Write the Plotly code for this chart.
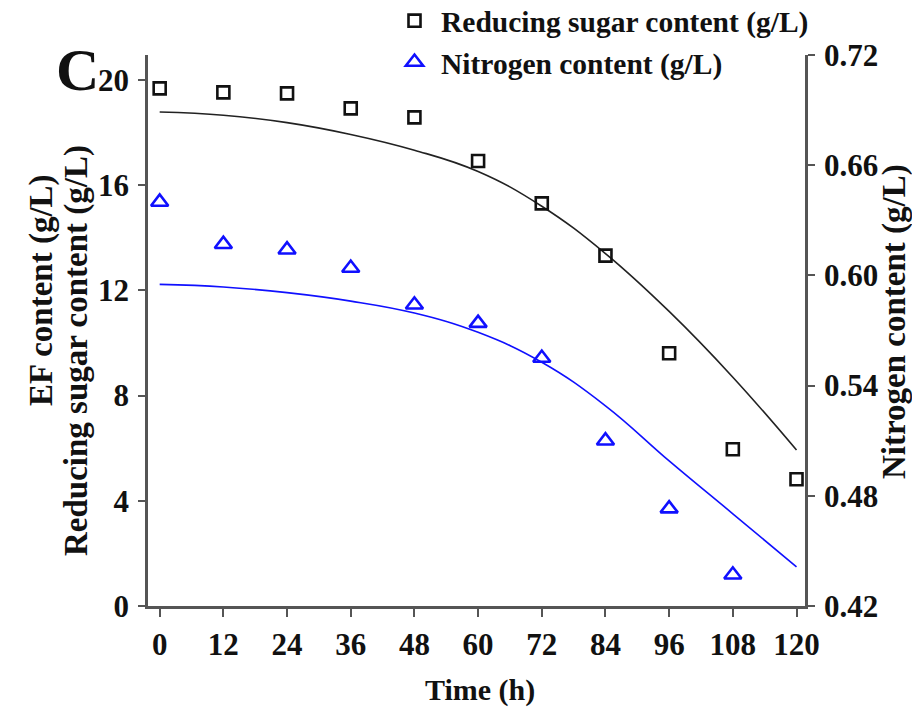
import plotly.graph_objects as go

# ---- data ----
hours = [0, 12, 24, 36, 48, 60, 72, 84, 96, 108, 120]
sugar = [19.68, 19.53, 19.49, 18.92, 18.58, 16.92, 15.31, 13.32, 9.61, 5.96, 4.82]
nitrogen_hours = [0, 12, 24, 36, 48, 60, 72, 84, 96, 108]
nitrogen = [0.640, 0.617, 0.614, 0.604, 0.584, 0.574, 0.555, 0.510, 0.473, 0.437]
fit_hours = [0, 12, 24, 36, 48, 60, 72, 84, 96, 108, 120]
sugar_fit = [18.78, 18.66, 18.38, 17.93, 17.33, 16.52, 15.20, 13.40, 11.20, 8.70, 5.93]
nitrogen_fit = [0.5951, 0.5937, 0.5906, 0.5860, 0.5795, 0.5690, 0.5527, 0.5290, 0.4990, 0.4702, 0.4413]
x_ticks = [0, 12, 24, 36, 48, 60, 72, 84, 96, 108, 120]
left_ticks = [0, 4, 8, 12, 16, 20]
right_ticks = [0.42, 0.48, 0.54, 0.60, 0.66, 0.72]
right_ticktext = ["0.42", "0.48", "0.54", "0.60", "0.66", "0.72"]

FONT = "Liberation Serif"
AX = "#555555"
BLUE = "#1010ff"

fig = go.Figure()
fig.add_trace(go.Scatter(x=fit_hours, y=sugar_fit, mode="lines",
                         line=dict(color="#222222", width=1.6, shape="spline", smoothing=1.2),
                         showlegend=False, hoverinfo="skip"))
fig.add_trace(go.Scatter(x=fit_hours, y=nitrogen_fit, mode="lines", yaxis="y2",
                         line=dict(color=BLUE, width=1.6, shape="spline", smoothing=1.2),
                         showlegend=False, hoverinfo="skip"))
fig.add_trace(go.Scatter(x=hours, y=sugar, mode="markers", name="Reducing sugar content (g/L)",
                         marker=dict(symbol="square-open", size=12, color="#111111", line=dict(width=2.6))))
fig.add_trace(go.Scatter(x=nitrogen_hours, y=nitrogen, mode="markers", yaxis="y2", name="Nitrogen content (g/L)",
                         marker=dict(symbol="triangle-up-open", size=15, color=BLUE, line=dict(width=2.6))))

L, R, T, B = 148, 107, 55, 108
W, H = 912, 714
pw, ph = W - L - R, H - T - B


def px(x):
    return (x - L) / pw


def py(y):
    return (H - B - y) / ph


tickfont = dict(family=FONT, size=31, color="#111111", weight="bold")
fig.update_layout(
    width=W, height=H,
    margin=dict(l=L, r=R, t=T, b=B, autoexpand=False),
    paper_bgcolor="white", plot_bgcolor="white",
    showlegend=True,
    legend=dict(x=px(388), y=py(-5), xanchor="left", yanchor="top", tracegroupgap=0, itemwidth=43,
                font=dict(family=FONT, size=29.5, color="#111111", weight="bold"),
                bgcolor="rgba(0,0,0,0)"),
    xaxis=dict(range=[-2.2, 121.6], tickvals=x_ticks, ticks="outside", ticklen=8, tickwidth=2, tickcolor=AX,
               showline=True, linecolor=AX, linewidth=2.5, showgrid=False, zeroline=False,
               tickfont=tickfont, ticklabelstandoff=1),
    yaxis=dict(range=[0, 20.95], tickvals=left_ticks, ticks="outside", ticklen=7, tickwidth=2, tickcolor=AX,
               showline=True, linecolor=AX, linewidth=2.5, showgrid=False, zeroline=False,
               tickfont=tickfont, ticklabelstandoff=3),
    yaxis2=dict(range=[0.42, 0.72], tickvals=right_ticks, ticktext=right_ticktext, overlaying="y", side="right",
                ticks="outside", ticklen=7, tickwidth=2, tickcolor=AX,
                showline=True, linecolor=AX, linewidth=2.5, showgrid=False, zeroline=False,
                tickfont=tickfont, ticklabelstandoff=3),
)

hfont = dict(family=FONT, size=30, color="#111111", weight="bold")
vfont = dict(family=FONT, size=33, color="#111111", weight="bold")
fig.add_annotation(text="Time (h)", x=px(480), y=py(690), xref="paper", yref="paper", showarrow=False,
                   font=hfont, xanchor="center", yanchor="middle")
fig.add_annotation(text="EF content (g/L)", x=px(41), y=py(290), xref="paper", yref="paper", showarrow=False,
                   font=vfont, textangle=-90, xanchor="center", yanchor="middle")
fig.add_annotation(text="Reducing sugar content (g/L)", x=px(76), y=py(351), xref="paper", yref="paper",
                   showarrow=False, font=vfont, textangle=-90, xanchor="center", yanchor="middle")
fig.add_annotation(text="Nitrogen content (g/L)", x=px(894), y=py(322), xref="paper", yref="paper",
                   showarrow=False, font=vfont, textangle=-90, xanchor="center", yanchor="middle")
fig.add_annotation(text="C", x=px(77), y=py(70), xref="paper", yref="paper", showarrow=False,
                   font=dict(family=FONT, size=60, color="#111111", weight="bold"), xanchor="center", yanchor="middle")

fig.write_html("out.html", config={"displayModeBar": False},
               post_script="document.body.style.margin='0px';")
